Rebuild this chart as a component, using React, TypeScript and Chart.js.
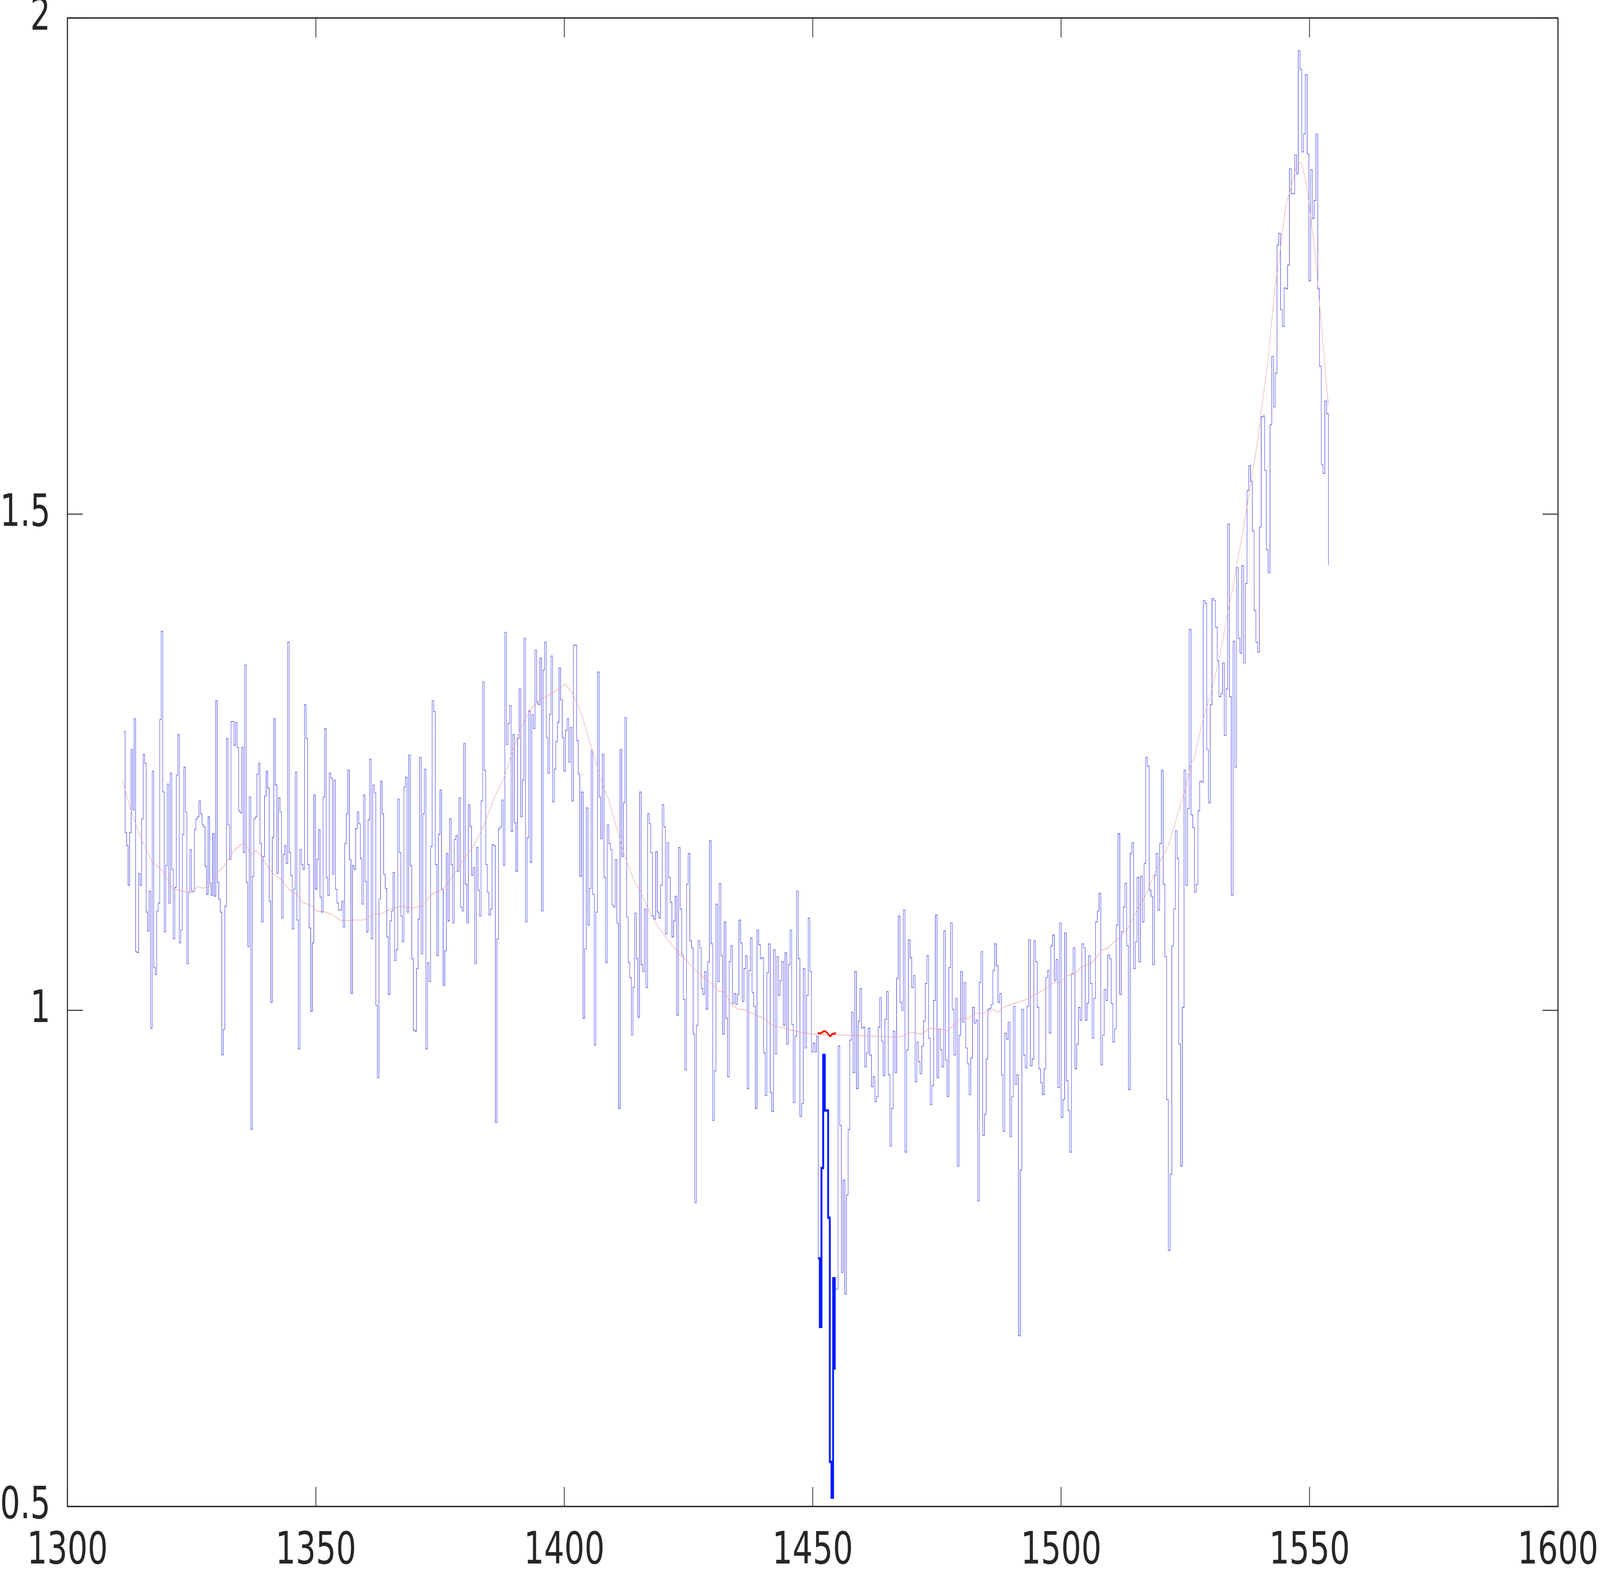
import React, { useEffect, useRef } from "react";
import { Chart, registerables } from "chart.js";

Chart.register(...registerables);

// Wavelength grid of the spectrum (log-uniform sampling between first and last pixel)
const WAVELENGTH_START = 1311.3;
const WAVELENGTH_END = 1553.8;

// Normalised flux, one value per spectral pixel
const FLUX_1311_1337 = [
  1.281, 1.179, 1.166, 1.126, 1.179, 1.263, 1.202, 1.294, 1.059, 1.058,
  1.138, 1.126, 1.193, 1.258, 1.249, 1.099, 1.080, 1.120, 0.982, 1.241,
  1.043, 1.036, 1.100, 1.108, 1.293, 1.382, 1.220, 1.079, 1.146, 1.228,
  1.108, 1.239, 1.142, 1.072, 1.124, 1.237, 1.278, 1.068, 1.081, 1.177,
  1.245, 1.200, 1.047, 1.119, 1.162, 1.120, 1.120, 1.182, 1.193, 1.195,
  1.211, 1.198, 1.187, 1.185, 1.145, 1.117, 1.195, 1.128, 1.116, 1.178,
  1.115, 1.312, 1.129, 1.112, 1.099, 0.955, 0.981, 1.105, 1.274, 1.187,
  1.152, 1.291, 1.291, 1.267, 1.290, 1.265, 1.201, 1.199, 1.265, 1.159,
  1.348, 1.129, 1.064, 1.215,
];
const FLUX_1337_1363 = [
  0.880,
  1.135, 1.193, 1.195, 1.238, 1.249, 1.168, 1.089, 1.155, 1.216, 1.241,
  1.224, 1.110, 1.008, 1.174, 1.294, 1.227, 1.138, 1.214, 1.200, 1.093,
  1.157, 1.166, 1.148, 1.371, 1.159, 1.136, 1.082, 1.122, 1.240, 1.091,
  0.961, 1.162, 1.147, 1.142, 1.308, 1.274, 1.147, 1.083, 0.999, 1.068,
  1.217, 1.122, 1.152, 1.182, 1.114, 1.099, 1.215, 1.284, 1.134, 1.116,
  1.239, 1.234, 1.137, 1.232, 1.122, 1.108, 1.101, 1.101, 1.110, 1.084,
  1.168, 1.198, 1.242, 1.152, 1.017, 1.146, 1.142, 1.183, 1.200, 1.188,
  1.153, 1.107, 1.217, 1.130, 1.079, 1.192, 1.253, 1.072, 1.227, 1.219,
  1.005, 0.932, 1.112,
];
const FLUX_1363_1389 = [
  1.231,
  1.198, 1.137, 1.123, 1.074, 1.016, 1.090, 1.100, 1.139, 1.050, 1.061,
  1.213, 1.159, 1.095, 1.069, 1.225, 1.235, 1.099, 1.257, 1.146, 1.052,
  0.980, 0.979, 1.042, 1.092, 1.255, 1.057, 1.198, 1.243, 0.961, 1.048,
  1.029, 1.165, 1.312, 1.301, 1.147, 1.055, 1.177, 1.222, 1.122, 1.025,
  1.060, 1.158, 1.090, 1.193, 1.147, 1.088, 1.172, 1.176, 1.140, 1.214,
  1.104, 1.100, 1.269, 1.127, 1.088, 1.207, 1.185, 1.136, 1.144, 1.047,
  1.164, 1.121, 1.095, 1.211, 1.331, 1.242, 1.147, 1.119, 1.096, 1.102,
  1.167, 1.166, 0.887, 1.072, 1.183, 1.185, 1.212, 1.146, 1.381, 1.268,
  1.289,
];
const FLUX_1389_1415 = [
  1.307,
  1.180, 1.278, 1.189, 1.140, 1.274, 1.324, 1.195, 1.232, 1.375, 1.089,
  1.174, 1.302, 1.149, 1.298, 1.284, 1.363, 1.310, 1.308, 1.355, 1.100,
  1.343, 1.371, 1.275, 1.239, 1.298, 1.357, 1.210, 1.243, 1.271, 1.290,
  1.345, 1.313, 1.275, 1.241, 1.282, 1.294, 1.250, 1.285, 1.211, 1.368,
  1.368, 1.272, 1.238, 1.135, 1.220, 0.992, 1.062, 1.204, 1.086, 1.123,
  1.262, 1.117, 0.965, 1.099, 1.341, 1.215, 1.173, 1.258, 1.134, 1.048,
  1.187, 1.168, 1.162, 1.106, 1.104, 1.152, 1.088, 0.901, 1.263, 1.155,
  1.209, 1.295, 1.094, 1.048, 1.033, 0.975, 1.023, 1.098, 1.052, 0.993,
];
const FLUX_1415_1441 = [
  1.220,
  1.046, 1.039, 1.102, 1.023, 1.198, 1.188, 1.159, 1.095, 1.092, 1.160,
  1.099, 1.093, 1.126, 1.207, 1.185, 1.077, 1.169, 1.134, 1.109, 1.074,
  1.090, 1.115, 0.995, 1.164, 1.102, 1.056, 1.011, 0.940, 1.127, 1.158,
  1.070, 1.063, 0.976, 0.806, 0.985, 1.070, 1.063, 1.022, 1.016, 1.039,
  1.001, 1.049, 1.171, 1.067, 0.889, 0.939, 1.107, 1.029, 1.128, 1.055,
  0.976, 1.089, 0.992, 0.933, 1.049, 1.065, 1.007, 1.017, 1.006, 1.016,
  1.091, 1.068, 1.009, 1.042, 1.055, 0.921, 1.040, 1.073, 1.018, 1.004,
  0.901, 1.081, 1.066, 1.052, 1.053, 0.957, 0.914, 1.038, 1.067,
];
const FLUX_1441_1467 = [
  0.917,
  0.898, 1.061, 0.956, 1.054, 1.015, 1.030, 1.049, 0.985, 1.058, 0.966,
  1.046, 1.081, 0.986, 0.907, 0.974, 1.120, 1.052, 0.893, 0.906, 1.042,
  0.962, 1.015, 1.093, 1.039, 0.958, 0.967, 0.958, 0.974, 0.750, 0.681,
  0.841, 0.955, 0.899, 0.899, 0.791, 0.545, 0.509, 0.730, 0.719, 0.719,
  0.964, 0.884, 0.736, 0.829, 0.714, 0.814, 0.880, 0.970, 0.998, 0.937,
  1.039, 0.921, 0.989, 1.022, 0.982, 0.983, 0.943, 0.957, 0.982, 0.955,
  0.923, 0.933, 0.908, 0.913, 0.983, 1.013, 0.969, 0.934, 0.991, 1.019,
  0.935, 0.863, 0.901, 0.979, 0.937, 1.032, 1.095,
];
const FLUX_1467_1493 = [
  1.008,
  1.000, 1.101, 0.857, 0.960, 1.071, 1.053, 1.023, 1.035, 0.928, 0.968,
  0.948, 0.936, 0.964, 0.989, 1.027, 1.055, 0.972, 0.905, 0.924, 1.010,
  1.096, 0.932, 0.981, 0.960, 0.943, 1.080, 0.950, 0.913, 1.043, 1.088,
  1.001, 0.955, 1.012, 0.843, 0.975, 1.039, 0.988, 1.028, 0.962, 0.946,
  0.915, 0.952, 1.003, 0.987, 0.990, 0.808, 1.028, 1.059, 0.874, 0.895,
  0.951, 1.001, 1.002, 1.006, 1.040, 1.067, 1.045, 1.008, 1.017, 0.935,
  0.878, 0.977, 0.971, 0.988, 0.873, 0.913, 1.004, 0.925, 0.935, 0.672,
  0.839, 1.001, 0.955, 0.942, 1.004,
];
const FLUX_1493_1520 = [
  1.071,
  0.944, 0.951, 1.070, 1.049, 1.003, 0.941, 0.927, 0.915, 0.941, 1.033,
  1.040, 0.977, 1.065, 1.076, 1.030, 1.051, 0.922, 1.088, 0.892, 0.910,
  1.078, 0.929, 0.899, 0.857, 1.037, 1.063, 0.941, 0.966, 1.003, 0.990,
  1.067, 1.063, 0.990, 1.007, 1.055, 1.027, 0.972, 1.012, 1.089, 1.100,
  1.118, 0.945, 0.975, 1.021, 1.010, 1.056, 1.052, 1.007, 0.968, 0.981,
  1.086, 1.178, 1.016, 1.079, 1.104, 1.128, 1.065, 0.920, 1.158, 1.169,
  1.042, 1.069, 1.134, 1.049, 1.135, 1.089, 1.148, 1.255, 1.246, 1.121,
  1.115, 1.046, 1.136, 1.158, 1.101,
  1.168,
];
const FLUX_1520_1535 = [
  1.242, 1.127, 1.054, 0.910, 0.758, 0.835, 1.065, 1.102, 1.181, 1.153,
  0.966, 0.843, 1.003, 1.242, 1.126, 1.203, 1.384, 1.197, 1.184, 1.119,
  1.127, 1.201, 1.231, 1.230, 1.413, 1.410, 1.263, 1.209, 1.308, 1.415,
  1.413, 1.386, 1.352, 1.316, 1.319, 1.350, 1.277, 1.324, 1.490, 1.316,
  1.116, 1.372, 1.245, 1.446,
];
const FLUX_1535_1554 = [
  1.375, 1.360, 1.448, 1.350, 1.430, 1.524, 1.549, 1.533, 1.483, 1.403,
  1.371, 1.361, 1.487, 1.598, 1.599, 1.544, 1.464, 1.441, 1.590, 1.659,
  1.608, 1.642, 1.771, 1.783, 1.706, 1.689, 1.728, 1.727, 1.751, 1.848,
  1.823, 1.823, 1.862, 1.843, 1.967, 1.948, 1.865, 1.883, 1.943, 1.863,
  1.735, 1.847, 1.798, 1.816, 1.883, 1.727, 1.649, 1.550, 1.541, 1.614,
  1.601, 1.449,
];

// Highlighted absorption pixels (thick dark blue)
const DARK_START_INDEX = 440;
const DARK_FLUX = [0.750, 0.681, 0.841, 0.955, 0.899, 0.899, 0.791, 0.545, 0.509, 0.730, 0.638];

// Smooth continuum fit (thin pink line)
const SMOOTH_WL = [
  1311.1, 1312.8, 1314.9, 1316.9, 1319.0, 1321.1, 1323.2, 1325.2, 1326.1, 1327.3,
  1328.6, 1330.4, 1331.5, 1333.5, 1335.6, 1337.0, 1337.9, 1339.0, 1340.4, 1341.4,
  1343.1, 1344.5, 1346.2, 1347.2, 1349.3, 1350.1, 1351.4, 1353.5, 1355.1, 1357.6,
  1359.7, 1361.8, 1363.0, 1365.1, 1367.2, 1369.2, 1371.3, 1373.4, 1375.5, 1377.5,
  1379.6, 1381.7, 1383.8, 1385.8, 1387.9, 1389.2, 1391.2, 1393.3, 1395.0, 1396.4,
  1398.5, 1400.2, 1401.6, 1402.7, 1403.7, 1404.7, 1405.8, 1406.8, 1407.9, 1408.9,
  1409.9, 1411.0, 1412.0, 1413.0, 1414.1, 1415.3, 1416.4, 1417.4, 1418.9, 1419.9,
  1421.5, 1423.6, 1424.7, 1425.7, 1427.8, 1429.9, 1431.1, 1432.3, 1433.4, 1435.0,
  1436.1, 1438.2, 1440.2, 1441.5, 1445.6, 1449.8, 1456.0, 1462.2, 1467.6, 1469.7,
  1471.8, 1473.8, 1475.9, 1477.0, 1478.4, 1479.7, 1481.3, 1482.6, 1484.2, 1486.3,
  1487.3, 1488.4, 1490.5, 1492.5, 1493.8, 1495.8, 1496.9, 1498.5, 1500.0, 1501.0,
  1502.5, 1504.2, 1506.2, 1508.3, 1509.3, 1510.4, 1511.4, 1512.5, 1513.5, 1514.5,
  1515.6, 1516.6, 1517.6, 1518.7, 1519.9, 1521.5, 1522.8, 1524.1, 1524.9, 1526.2,
  1526.8, 1528.2, 1529.3, 1530.7, 1531.6, 1532.4, 1533.4, 1534.5, 1535.5, 1536.5,
  1538.2, 1539.6, 1541.7, 1543.0, 1543.8, 1545.2, 1546.3, 1547.3, 1548.0, 1548.4,
  1549.2, 1550.0, 1550.9, 1551.7, 1552.5, 1553.3, 1553.8,
];
const SMOOTH_FLUX = [
  1.231, 1.201, 1.172, 1.151, 1.141, 1.123, 1.120, 1.118, 1.125, 1.123,
  1.125, 1.140, 1.145, 1.161, 1.170, 1.156, 1.161, 1.156, 1.144, 1.138,
  1.131, 1.122, 1.117, 1.109, 1.105, 1.100, 1.100, 1.096, 1.090, 1.091,
  1.091, 1.097, 1.097, 1.102, 1.105, 1.103, 1.105, 1.117, 1.122, 1.135,
  1.151, 1.165, 1.186, 1.213, 1.235, 1.255, 1.284, 1.304, 1.313, 1.316,
  1.323, 1.329, 1.320, 1.308, 1.295, 1.277, 1.260, 1.242, 1.224, 1.213,
  1.195, 1.176, 1.158, 1.144, 1.130, 1.120, 1.108, 1.097, 1.084, 1.077,
  1.067, 1.054, 1.050, 1.044, 1.034, 1.026, 1.019, 1.019, 1.007, 1.001,
  1.001, 0.996, 0.992, 0.986, 0.980, 0.976, 0.975, 0.974, 0.973, 0.978,
  0.976, 0.982, 0.981, 0.979, 0.985, 0.991, 0.992, 0.997, 0.997, 1.001,
  0.998, 1.003, 1.007, 1.010, 1.013, 1.019, 1.022, 1.028, 1.028, 1.035,
  1.036, 1.044, 1.048, 1.061, 1.062, 1.068, 1.072, 1.077, 1.083, 1.093,
  1.105, 1.112, 1.123, 1.137, 1.150, 1.165, 1.186, 1.209, 1.220, 1.250,
  1.254, 1.286, 1.305, 1.330, 1.351, 1.369, 1.398, 1.424, 1.453, 1.480,
  1.530, 1.576, 1.658, 1.727, 1.753, 1.810, 1.830, 1.850, 1.854, 1.854,
  1.837, 1.810, 1.773, 1.730, 1.684, 1.638, 1.610,
];

// Short red continuum marker over the absorption line
const MARK_WL = [1451.02, 1451.64, 1452.27, 1452.78, 1453.51, 1453.93, 1454.69];
const MARK_FLUX = [0.977, 0.977, 0.979, 0.978, 0.974, 0.976, 0.977];

const X_TICKS = [1300, 1350, 1400, 1450, 1500, 1550, 1600];
const Y_TICKS = [0.5, 1, 1.5, 2];

const FLUX = [
  ...FLUX_1311_1337,
  ...FLUX_1337_1363,
  ...FLUX_1363_1389,
  ...FLUX_1389_1415,
  ...FLUX_1415_1441,
  ...FLUX_1441_1467,
  ...FLUX_1467_1493,
  ...FLUX_1493_1520,
  ...FLUX_1520_1535,
  ...FLUX_1535_1554,
];

// Drawing surface matches the reference raster; it is shown stretched over the viewport
const W = 5172;
const H = 4016;
const AXIS_COLOR = "#262626";
const FONT_FAMILY = "'DejaVu Sans Condensed', 'DejaVu Sans', sans-serif";

function wavelength(i: number): number {
  return WAVELENGTH_START * Math.pow(WAVELENGTH_END / WAVELENGTH_START, i / (FLUX.length - 1));
}

const framePlugin = {
  id: "matlabFrame",
  afterDraw(chart: any) {
    const { ctx, chartArea: a, scales } = chart;
    const L = 50;
    ctx.save();
    ctx.strokeStyle = AXIS_COLOR;
    ctx.lineWidth = 2.5;
    ctx.beginPath();
    X_TICKS.forEach((v) => {
      const x = scales.x.getPixelForValue(v);
      ctx.moveTo(x, a.bottom);
      ctx.lineTo(x, a.bottom - L);
      ctx.moveTo(x, a.top);
      ctx.lineTo(x, a.top + L);
    });
    Y_TICKS.forEach((v) => {
      const y = scales.y.getPixelForValue(v);
      ctx.moveTo(a.left, y);
      ctx.lineTo(a.left + L, y);
      ctx.moveTo(a.right, y);
      ctx.lineTo(a.right - L, y);
    });
    ctx.stroke();
    ctx.lineWidth = 3.5;
    ctx.strokeRect(a.left, a.top, a.right - a.left, a.bottom - a.top);
    ctx.restore();
  },
};

export default function App() {
  const canvasRef = useRef<HTMLCanvasElement | null>(null);

  useEffect(() => {
    const canvas = canvasRef.current;
    if (!canvas) return;

    const spectrum = FLUX.map((f, i) => ({ x: wavelength(i), y: f }));
    const dark = DARK_FLUX.map((f, k) => ({ x: wavelength(DARK_START_INDEX + k), y: f }));
    const smooth = SMOOTH_WL.map((w, i) => ({ x: w, y: SMOOTH_FLUX[i] }));
    const mark = MARK_WL.map((w, i) => ({ x: w, y: MARK_FLUX[i] }));

    const chart = new Chart(canvas, {
      type: "line",
      data: {
        datasets: [
          {
            label: "marker",
            data: mark,
            borderColor: "rgb(255,24,0)",
            borderWidth: 5,
            pointRadius: 0,
            tension: 0.3,
            fill: false,
          },
          {
            label: "absorption",
            data: dark,
            borderColor: "rgb(0,26,255)",
            borderWidth: 6,
            pointRadius: 0,
            stepped: "before",
            fill: false,
          },
          {
            label: "fit",
            data: smooth,
            borderColor: "rgb(240,155,155)",
            borderWidth: 1.4,
            pointRadius: 0,
            tension: 0,
            fill: false,
          },
          {
            label: "spectrum",
            data: spectrum,
            borderColor: "rgb(22,22,225)",
            borderWidth: 1.2,
            pointRadius: 0,
            stepped: "before",
            fill: false,
          },
        ],
      },
      options: {
        animation: false,
        responsive: false,
        devicePixelRatio: 1,
        events: [],
        layout: {
          autoPadding: false,
          padding: { left: 0, right: W - 5036, top: 46, bottom: 0 },
        },
        plugins: {
          legend: { display: false },
          tooltip: { enabled: false },
          title: { display: false },
        },
        scales: {
          x: {
            type: "linear",
            position: "bottom",
            min: 1300,
            max: 1600,
            afterFit: (s: any) => {
              s.height = H - 3856;
            },
            afterBuildTicks: (s: any) => {
              s.ticks = X_TICKS.map((v) => ({ value: v }));
            },
            grid: { display: false, drawTicks: true, tickLength: 48 },
            border: { display: false },
            ticks: {
              padding: 0,
              maxRotation: 0,
              autoSkip: false,
              color: AXIS_COLOR,
              font: { family: FONT_FAMILY, size: 114, lineHeight: 1.2 },
              callback: (v: any) => String(v),
            },
          },
          y: {
            type: "linear",
            position: "left",
            min: 0.5,
            max: 2,
            afterFit: (s: any) => {
              s.width = 218;
            },
            afterBuildTicks: (s: any) => {
              s.ticks = Y_TICKS.map((v) => ({ value: v }));
            },
            grid: { display: false, drawTicks: true, tickLength: 55 },
            border: { display: false },
            ticks: {
              padding: 0,
              autoSkip: false,
              color: AXIS_COLOR,
              font: { family: FONT_FAMILY, size: 114, lineHeight: 0.8 },
              callback: (v: any) => String(v),
            },
          },
        },
      },
      plugins: [framePlugin],
    });

    return () => {
      chart.destroy();
    };
  }, []);

  return (
    <div
      style={{
        position: "fixed",
        left: 0,
        top: 0,
        width: "100vw",
        height: "100vh",
        background: "#ffffff",
        overflow: "hidden",
      }}
    >
      <canvas
        ref={canvasRef}
        width={W}
        height={H}
        style={{ width: "100%", height: "100%", display: "block" }}
      />
    </div>
  );
}
